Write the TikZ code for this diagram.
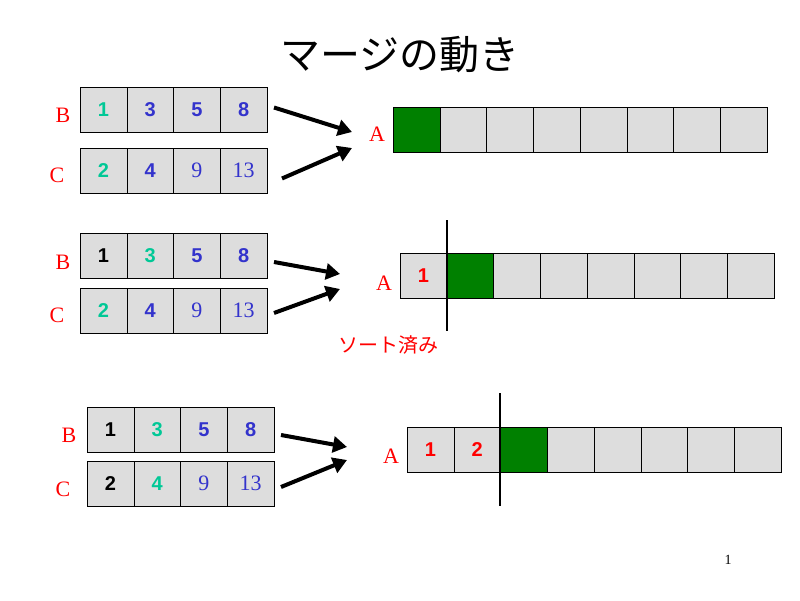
\documentclass[tikz,border=0pt]{standalone}
\usepackage{fontspec}
\setmainfont{Liberation Serif}
\newfontfamily\jp{Noto Sans CJK JP}
\newfontfamily\ns{Liberation Sans}
\usetikzlibrary{arrows.meta}
\definecolor{tealc}{RGB}{0,200,150}
\definecolor{bluec}{RGB}{51,51,204}
\definecolor{cellg}{RGB}{221,221,221}
\definecolor{greenc}{RGB}{0,128,0}
\tikzset{
 cell/.style={draw=black,fill=cellg,minimum width=46.75pt,minimum height=45pt,inner sep=0pt,outer sep=0pt,anchor=north west},
 sn/.style={font=\ns\bfseries\fontsize{20}{20}\selectfont},
 sf/.style={font=\fontsize{22}{22}\selectfont,text=bluec},
 lab/.style={font=\fontsize{22}{22}\selectfont,text=red},
 arr/.style={line width=4pt,-{Triangle[length=14pt,width=16pt]}},
 bar/.style={line width=2pt}
}
\begin{document}
\begin{tikzpicture}[x=1pt,y=-1pt]
\useasboundingbox (0,0) rectangle (800,600);
\node[font=\jp\fontsize{40}{40}\selectfont] (title) at (400,55) {マージの動き};
\node[font=\fontsize{14}{14}\selectfont] (pg) at (728,560) {1};
% ---- row 1
\foreach \i/\t/\c in {0/1/tealc,1/3/bluec,2/5/bluec,3/8/bluec}
  \node[cell,sn,text=\c] (b1\i) at (80+46.75*\i,87) {\t};
\foreach \i/\t/\c/\s in {0/2/tealc/sn,1/4/bluec/sn,2/9/bluec/sf,3/13/bluec/sf}
  \node[cell,\s,text=\c] (c1\i) at (80+46.75*\i,148) {\t};
\node[lab] (lb1) at (63,115) {B};
\node[lab] (lc1) at (57,175) {C};
\node[lab] (la1) at (377,134) {A};
\foreach \i in {0,...,7} \node[cell] (a1\i) at (393+46.75*\i,107) {};
\node[cell,fill=greenc] (g1) at (393,107) {};
\coordinate (t1) at (352,132); \coordinate (u1) at (352,148);
\draw[arr] (b13.east) ++(7,-2) coordinate (s1) -- (t1);
\draw[arr] (c13.east) ++(15,8) coordinate (v1) -- (u1);
% ---- row 2
\foreach \i/\t/\c in {0/1/black,1/3/tealc,2/5/bluec,3/8/bluec}
  \node[cell,sn,text=\c] (b2\i) at (80+46.75*\i,233) {\t};
\foreach \i/\t/\c/\s in {0/2/tealc/sn,1/4/bluec/sn,2/9/bluec/sf,3/13/bluec/sf}
  \node[cell,\s,text=\c] (c2\i) at (80+46.75*\i,288) {\t};
\node[lab] (lb2) at (63,262) {B};
\node[lab] (lc2) at (57,315) {C};
\node[lab] (la2) at (384,283) {A};
\foreach \i in {0,...,7} \node[cell] (a2\i) at (400+46.75*\i,253) {};
\node[cell,sn,text=red] (r20) at (400,253) {1};
\node[cell,fill=greenc] (g2) at (446.75,253) {};
\coordinate (s2) at (274,262); \coordinate (t2) at (340,274);
\coordinate (v2) at (274,313); \coordinate (u2) at (340,289);
\draw[arr] (s2) -- (t2);
\draw[arr] (v2) -- (u2);
\coordinate (p2) at (447,220); \coordinate (q2) at (447,331);
\draw[bar] (p2) -- (q2);
\node[font=\jp\fontsize{20}{20}\selectfont,text=red] (sorted) at (388,345) {ソート済み};
% ---- row 3
\foreach \i/\t/\c in {0/1/black,1/3/tealc,2/5/bluec,3/8/bluec}
  \node[cell,sn,text=\c] (b3\i) at (87+46.75*\i,407) {\t};
\foreach \i/\t/\c/\s in {0/2/black/sn,1/4/tealc/sn,2/9/bluec/sf,3/13/bluec/sf}
  \node[cell,\s,text=\c] (c3\i) at (87+46.75*\i,461) {\t};
\node[lab] (lb3) at (69,435) {B};
\node[lab] (lc3) at (63,489) {C};
\node[lab] (la3) at (391,456) {A};
\foreach \i in {0,...,7} \node[cell] (a3\i) at (407+46.75*\i,427) {};
\node[cell,sn,text=red] (r30) at (407,427) {1};
\node[cell,sn,text=red] (r31) at (453.75,427) {2};
\node[cell,fill=greenc] (g3) at (500.5,427) {};
\coordinate (s3) at (281,435); \coordinate (t3) at (347,447);
\coordinate (v3) at (281,487); \coordinate (u3) at (347,460);
\draw[arr] (s3) -- (t3);
\draw[arr] (v3) -- (u3);
\coordinate (p3) at (500,393); \coordinate (q3) at (500,506);
\draw[bar] (p3) -- (q3);
\end{tikzpicture}
\end{document}
